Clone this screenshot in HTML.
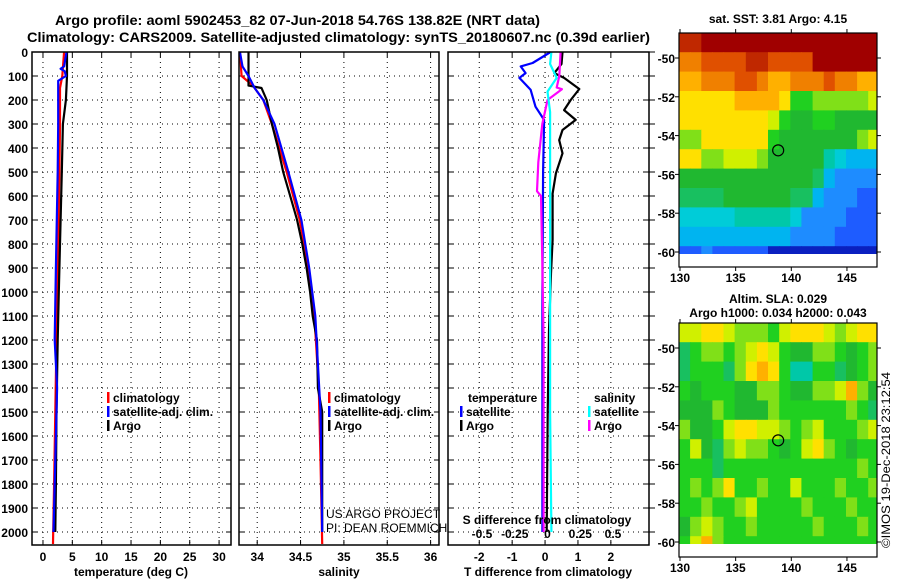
<!DOCTYPE html>
<html><head><meta charset="utf-8">
<style>
html,body{margin:0;padding:0;background:#fff;}
svg{display:block;font-family:"Liberation Sans",Arial,sans-serif;}
.b{font-weight:bold;font-size:12px;fill:#000;}
.t{font-weight:bold;font-size:14px;fill:#000;}
</style></head>
<body>
<svg id="fig" width="900" height="580" viewBox="0 0 900 580" xmlns="http://www.w3.org/2000/svg">
<text class="t" x="55" y="25" textLength="485" lengthAdjust="spacingAndGlyphs">Argo profile: aoml 5902453_82 07-Jun-2018 54.76S 138.82E (NRT data)</text>
<text class="t" x="27" y="42" textLength="623" lengthAdjust="spacingAndGlyphs">Climatology: CARS2009. Satellite-adjusted climatology: synTS_20180607.nc (0.39d earlier)</text>
<g id="panels"></g>
<g id="maps"></g>
<text x="890" y="548" transform="rotate(-90 890 548)" font-size="12" fill="#000" textLength="176" lengthAdjust="spacingAndGlyphs">©IMOS 19-Dec-2018 23:12:54</text>
</svg>
<script>
// ---- profile data (depth in m) ----
const tClimDepth = [0,100,150,300,500,800,1000,1200,1500,1800,2000,2050];
const tClimVal   = [3.6,3.3,2.9,2.9,2.8,2.6,2.4,2.3,2.1,1.9,1.75,1.7];
const tSatDepth  = [0,60,70,80,100,120,300,500,900,1200,1400,1600,1800,2000];
const tSatVal    = [4.0,3.6,3.0,3.7,3.9,2.6,2.6,2.5,2.2,2.0,2.4,2.2,2.0,1.8];
const tArgoDepth = [0,100,200,300,500,800,1000,1200,1500,1800,2000];
const tArgoVal   = [4.1,4.1,3.9,3.4,3.2,2.9,2.7,2.5,2.3,2.2,2.1];

const sClimDepth = [0,100,140,200,300,500,700,900,1100,1400,1700,2050];
const sClimVal   = [33.8,33.82,33.95,34.07,34.17,34.34,34.49,34.59,34.66,34.71,34.73,34.75];
const sSatDepth  = [0,60,100,150,200,300,500,700,900,1100,1500,2000];
const sSatVal    = [33.8,33.83,33.9,33.97,34.07,34.2,34.36,34.51,34.6,34.67,34.73,34.75];
const sArgoDepth = [0,140,150,200,300,400,500,600,700,800,900,1000,1100,1200,1400,1500,2000];
const sArgoVal   = [33.9,33.9,34.05,34.11,34.17,34.24,34.3,34.38,34.46,34.52,34.57,34.61,34.64,34.69,34.7,34.75,34.75];

const dTArgoDepth = [0,50,88,108,154,200,242,283,325,367,422,506,590,783,922,1158,1500,2000];
const dTArgoVal   = [0.53,0.5,0.28,0.58,1.04,0.78,0.58,0.93,0.53,0.43,0.53,0.33,0.23,0.23,0.18,0.12,0.08,0.05];
const dTSatDepth  = [0,46,60,88,108,157,228,283,500,1000,1500,2000];
const dTSatVal    = [0.17,-0.38,-0.74,-0.59,-0.78,-0.44,-0.29,-0.03,-0.06,-0.08,-0.08,-0.08];
const dSSatDepth  = [0,50,108,165,250,500,1000,1500,2000];
const dSSatVal    = [0.03,0.02,0.07,0.0,0.02,0.02,0.02,0.02,0.03];
const dSArgoDepth = [0,100,148,155,200,300,460,580,600,870,1200,1500,2000];
const dSArgoVal   = [0.10,0.09,0.07,0.11,0.0,-0.04,-0.07,-0.08,-0.05,-0.04,-0.03,-0.03,-0.03];

const depthTicks = [0,100,200,300,400,500,600,700,800,900,1000,1100,1200,1300,1400,1500,1600,1700,1800,1900,2000];
const tTicks = [0,5,10,15,20,25,30];
const sTicks = [34,34.5,35,35.5,36];
const sTickLabels = ["34","34.5","35","35.5","36"];
const dTTicks = [-2,-1,0,1,2];
const dSTicks = [-0.5,-0.25,0,0.25,0.5];
const dSTickLabels = ["-0.5","-0.25","0","0.25","0.5"];

// ---- map data (colour index per 1deg cell, rows from lat -48.7 southward, cols from lon 130) ----
const sstGrid = [
[9,9,9.5,9.5,9.5,9.5,9.5,9.5,9.5,9.5,9.5,9.5,9.5,9.5,9.5,9.5,9.5,9.5],
[8,8,8.5,8.5,8.5,8.5,9,9,8.5,8.5,8.5,8.5,9.5,9.5,9.5,9.5,9.5,9.5],
[7.5,7.5,8,8,8,8.5,8.5,8,7.5,7.5,8,8,8,8.5,8,8,7.5,7.5],
[7,7,7,7,7,7.5,7.5,7.5,7.5,7,5.5,5.5,6,6,6,6,6,6.5],
[7,7,7,7,7,7,7,7,6.5,5.5,5,5,5.5,5.5,5,5,5,5],
[6,6,7,7,7,7,7,7,5.5,5,5,5,5,5,5,5,6,6.5],
[7,7,6,6,6.5,6.5,6.5,6,5,5,5,5,5,4,3.5,3,3,3],
[5,5,5,5,5,5,5,5,5,5,5,5,4.5,3,2.5,2.5,2.5,2.5],
[4.5,4.5,4.5,4.5,5,5,5,5,5,5,4.5,4.5,3,2.5,2.5,2.5,2,2],
[3.5,3.5,3.5,3.5,3.5,4,4,4,4,4,3.5,2.5,2.5,2.5,2.5,2,2,2],
[3,3,3,3,3,3,3,3,3,3,2.5,2.5,2.5,2.5,2,2,2,2],
[2,2,2.5,2,2,2,2,2,1.5,1.5,1.5,1.5,1.5,1.5,1.5,1.5,1.5,1.5]];
const slaGrid = [
[6.5,6.5,7,7,6.5,6,6,6,5.5,6.5,7,7,7,6.5,6,6.5,7,7],
[4.5,5.5,6,6,5.5,6,6.5,7,6.5,5.5,5,5,6,6,5.5,5,5.5,6],
[4.5,5.5,5.5,5.5,4.5,6,7,7.5,7,5.5,4,4,5.5,5.5,4.5,5,5.5,6],
[5.5,5,5.5,5.5,5.5,5,5,6,6,5.5,5,5,6,6,6.5,7.5,6,5],
[5,5,5,6,5.5,5,5,5,6,5.5,5.5,5.5,5.5,5.5,5.5,6,5.5,4.5],
[6,5,5,5.5,6.5,7,7,6.5,6.5,6,5.5,6,6.5,5.5,5.5,5.5,6,6.5],
[5.5,6.5,5,4.5,6,6.5,6,6,5.5,5,5.5,6.5,7,6,5.5,5,5.5,5.5],
[5.5,5.5,5.5,4.5,5.5,5.5,5.5,5.5,5.5,5.5,5.5,5.5,5.5,5.5,5.5,5.5,6,5.5],
[5.5,6,5.5,6,7,5.5,5.5,6,5.5,5.5,6.5,5.5,5.5,5.5,6,5.5,5.5,6],
[5.5,5.5,6,5.5,5.5,6,6.5,5.5,5.5,5.5,5.5,6,5.5,5.5,5.5,6,5.5,5.5],
[5,6,6.5,6,5.5,5.5,6,5.5,5.5,5.5,5.5,5.5,6,5.5,5.5,5.5,6,5.5],
[5.5,6.5,7.5,6,5.5,5.5,5.5,5.5,5.5,5.5,5.5,5.5,5.5,5.5,5.5,5.5,5.5,5.5]];
const argoLon = 138.82;
const argoLat = -54.76;
const latTicks = [-50,-52,-54,-56,-58,-60];
const lonTicks = [130,135,140,145];

const NS = "http://www.w3.org/2000/svg";
function mk(tag, attrs, parent){const e=document.createElementNS(NS,tag);for(const k in attrs)e.setAttribute(k,attrs[k]);parent.appendChild(e);return e;}
const panelsG = document.getElementById('panels');
const mapsG = document.getElementById('maps');
const yTop=52, yPerM=0.24, yBot=545;
const depthY = d => yTop + d*yPerM;

const panels = [
 {name:'temperature', x0:32, x1:231, v0:-1.87, ppu:5.87, ticks:tTicks, labels:tTicks.map(String), xlabel:'temperature (deg C)', xlabX:131},
 {name:'salinity', x0:239, x1:439, v0:33.79, ppu:86.7, ticks:sTicks, labels:sTickLabels, xlabel:'salinity', xlabX:339},
 {name:'difference', x0:448, x1:649, v0:-2.95, ppu:32.9, ticks:dTTicks, labels:dTTicks.map(String), xlabel:'T difference from climatology', xlabX:548}
];
panels.forEach((p,pi)=>{
  const g = mk('g',{},panelsG);
  
  
  p.sx = v => p.x0 + (v - p.v0)*p.ppu;
  // grid
  depthTicks.forEach(d=>{
    const l = mk('line',{x1:p.x0,x2:p.x1,y1:depthY(d),y2:depthY(d),stroke:'#000','stroke-width':1,'stroke-dasharray':'1,4'},g);
    
    
    mk('line',{x1:p.x0,x2:p.x0+5,y1:depthY(d),y2:depthY(d),stroke:'#000'},g);
    mk('line',{x1:p.x1-5,x2:p.x1,y1:depthY(d),y2:depthY(d),stroke:'#000'},g);
    if(pi===0){
      const t = mk('text',{x:28,y:depthY(d)+5,'text-anchor':'end',class:'b'},g);
      t.textContent = d;
      
      
    }
    if(pi===2){ mk('line',{x1:p.x1,x2:p.x1+6,y1:depthY(d),y2:depthY(d),stroke:'#000'},g); }
  });
  p.ticks.forEach((v,i)=>{
    const x = p.sx(v);
    const l = mk('line',{x1:x,x2:x,y1:yTop,y2:yBot,stroke:'#000','stroke-width':1,'stroke-dasharray':'1,4'},g);
    
    
    mk('line',{x1:x,x2:x,y1:yTop,y2:yTop+5,stroke:'#000'},g);
    mk('line',{x1:x,x2:x,y1:yBot-5,y2:yBot,stroke:'#000'},g);
    const t = mk('text',{x:x,y:yBot+16,'text-anchor':'middle',class:'b'},g);
    t.textContent = p.labels[i];
    
    
  });
  const xl = mk('text',{x:p.xlabX,y:576,'text-anchor':'middle',class:'b'},g);
  xl.textContent = p.xlabel;
  
  
});

function line(panel, depths, vals, color, name, ppuOverride){
  const p = panels[panel];
  const sx = ppuOverride ? (v => 547.5 + v*ppuOverride) : p.sx;
  const pts = depths.map((d,i)=> sx(vals[i]).toFixed(1)+','+depthY(d).toFixed(1)).join(' ');
  const pl = mk('polyline',{points:pts,fill:'none',stroke:color,'stroke-width':2.2,'stroke-linejoin':'round'},panelsG);
  
  
}
line(0,tClimDepth,tClimVal,'#ff0000','temperature-climatology-line');
line(0,tArgoDepth,tArgoVal,'#000000','temperature-argo-line');
line(0,tSatDepth,tSatVal,'#0000ff','temperature-satellite-line');
line(1,sClimDepth,sClimVal,'#ff0000','salinity-climatology-line');
line(1,sArgoDepth,sArgoVal,'#000000','salinity-argo-line');
line(1,sSatDepth,sSatVal,'#0000ff','salinity-satellite-line');
line(2,dTArgoDepth,dTArgoVal,'#000000','t-diff-argo-line');
line(2,dTSatDepth,dTSatVal,'#0000ff','t-diff-satellite-line');
line(2,dSArgoDepth,dSArgoVal,'#ff00ff','s-diff-argo-line',131);
line(2,dSSatDepth,dSSatVal,'#00ffff','s-diff-satellite-line',131);

// frames (drawn over lines)
panels.forEach(p=>{
  const r = mk('rect',{x:p.x0,y:yTop,width:p.x1-p.x0,height:yBot-yTop,fill:'none',stroke:'#000','stroke-width':1.5},panelsG);
  
  
});
// S diff axis labels inside panel 3
const sdt = mk('text',{x:547,y:524,'text-anchor':'middle',class:'b'},panelsG);
sdt.textContent='S difference from climatology';


dSTicks.forEach((v,i)=>{
  const t = mk('text',{x:547.5+v*131,y:538,'text-anchor':'middle',class:'b'},panelsG);
  t.textContent = dSTickLabels[i];
  
  
});
// legends
function legend(x,y,color,label,name){
  const g = mk('g',{},panelsG);
  
  
  mk('rect',{x:x,y:y-10,width:2.5,height:11,fill:color},g);
  const t = mk('text',{x:x+6,y:y,class:'b'},g);
  t.textContent = label;
}
legend(107,402,'#ff0000','climatology','legend-temp-climatology');
legend(107,416,'#0000ff','satellite-adj. clim.','legend-temp-satellite');
legend(107,430,'#000000','Argo','legend-temp-argo');
legend(328,402,'#ff0000','climatology','legend-sal-climatology');
legend(328,416,'#0000ff','satellite-adj. clim.','legend-sal-satellite');
legend(328,430,'#000000','Argo','legend-sal-argo');
const lt = mk('text',{x:468,y:402,class:'b'},panelsG); lt.textContent='temperature';
 
legend(460,416,'#0000ff','satellite','legend-tdiff-satellite');
legend(460,430,'#000000','Argo','legend-tdiff-argo');
const ls = mk('text',{x:594,y:402,class:'b'},panelsG); ls.textContent='salinity';
 
legend(588,416,'#00ffff','satellite','legend-sdiff-satellite');
legend(588,430,'#ff00ff','Argo','legend-sdiff-argo');
const us1 = mk('text',{x:326,y:518,'font-size':12,fill:'#000'},panelsG); us1.textContent='US ARGO PROJECT';
 
const us2 = mk('text',{x:326,y:532,'font-size':12,fill:'#000'},panelsG); us2.textContent='PI: DEAN ROEMMICH';
 

// ---- maps ----
const pal = ['#00007f','#0000dd','#1e5cff','#00a8ff','#00d0c8','#12b83a','#20c820','#b8f000','#ffe000','#ff9000','#e04a00','#a00000'];
function colorOf(v){
  const stops=[[1.5,'#0a20c0'],[2,'#1e5cff'],[2.5,'#1e8cff'],[3,'#00b4f0'],[3.5,'#00ccd8'],[4,'#00c8a8'],[4.5,'#18c060'],[5,'#20b830'],[5.5,'#20d020'],[6,'#80e018'],[6.5,'#d0f000'],[7,'#ffe000'],[7.5,'#ffb000'],[8,'#f08000'],[8.5,'#e05000'],[9,'#c02800'],[9.5,'#a00000']];
  let best=stops[0];for(const s of stops){if(Math.abs(s[0]-v)<Math.abs(best[0]-v))best=s;}return best[1];
}
const mapX0=679, mapX1=877, lonPx=11.13;
const lonX = lon => 680 + (lon-130)*lonPx;
function drawMap(grid, yTopMap, yLat50, yBotMap, title1, title2, name){
  const g = mk('g',{},mapsG);
  
  
  const latY = lat => yLat50 + (-50-lat)*19.4;
  const cid = name+'-clip';
  const cp = mk('clipPath',{id:cid},g);
  mk('rect',{x:mapX0,y:yTopMap,width:mapX1-mapX0,height:latY(-60.1)-yTopMap},cp);
  const cells = mk('g',{'clip-path':'url(#'+cid+')'},g);
  grid.forEach((row,r)=>{
    row.forEach((v,c)=>{
      const x = lonX(130+c)-1, y = latY(-48.7-r);
      const rc = mk('rect',{x:x.toFixed(1),y:y.toFixed(1),width:lonPx+0.6,height:19.9,fill:colorOf(v)},cells);
      
      
    });
  });
  mk('rect',{x:mapX0,y:yTopMap,width:mapX1-mapX0,height:yBotMap-yTopMap,fill:'none',stroke:'#000','stroke-width':1.2},g);
  latTicks.forEach(lat=>{
    const y=latY(lat);
    mk('line',{x1:mapX0-4,x2:mapX0,y1:y,y2:y,stroke:'#000'},g);
    mk('line',{x1:mapX1,x2:mapX1+4,y1:y,y2:y,stroke:'#000'},g);
    const t=mk('text',{x:mapX0-4,y:y+5,'text-anchor':'end',class:'b'},g);
    t.textContent=lat;
    
    
  });
  lonTicks.forEach(lon=>{
    const x=lonX(lon);
    mk('line',{x1:x,x2:x,y1:yTopMap-4,y2:yTopMap,stroke:'#000'},g);
    mk('line',{x1:x,x2:x,y1:yBotMap,y2:yBotMap+4,stroke:'#000'},g);
    const t=mk('text',{x:x,y:yBotMap+15,'text-anchor':'middle',class:'b'},g);
    t.textContent=lon;
    
    
  });
  const c=mk('circle',{cx:lonX(argoLon),cy:latY(argoLat),r:5.5,fill:'none',stroke:'#000','stroke-width':1.2},g);
  
  
  title1 && (()=>{const t=mk('text',{x:778,y:title2?yTopMap-20:yTopMap-10,'text-anchor':'middle',class:'b'},g);t.textContent=title1;
    })();
  title2 && (()=>{const t=mk('text',{x:778,y:yTopMap-6,'text-anchor':'middle',class:'b'},g);t.textContent=title2;
    })();
}
drawMap(sstGrid,33,58,267,'sat. SST: 3.81 Argo: 4.15',null,'sst-map');
drawMap(slaGrid,323,348,557,'Altim. SLA: 0.029','Argo h1000: 0.034 h2000: 0.043','sla-map');
</script>
</body></html>
